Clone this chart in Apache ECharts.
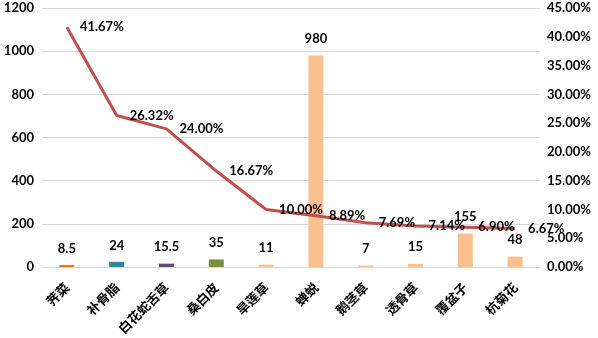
<!DOCTYPE html>
<html>
<head>
<meta charset="utf-8">
<script src="https://cdn.jsdelivr.net/npm/echarts@6/dist/echarts.min.js"></script>
<style>
  html, body { margin: 0; padding: 0; background: #fff; }
  #chart { width: 598px; height: 338px; }
</style>
</head>
<body>
<div id="chart"></div>
<script>
// Herb names along the category axis
const categories = ['荠菜', '补骨脂', '白花蛇舌草', '桑白皮', '旱莲草', '蝉蜕', '鹅茎草', '透骨草', '覆盆子', '杭菊花'];
// Counts (bars, left axis)
const counts = [8.5, 24, 15.5, 35, 11, 980, 7, 15, 155, 48];
// Rates in percent (line, right axis)
const rates = [41.67, 26.32, 24.00, 16.67, 10.00, 8.89, 7.69, 7.14, 6.90, 6.67];
// Bar fill per category
const barColors = ['#E46C0A', '#31859C', '#604A7B', '#77933C', '#FAC090', '#FAC090', '#FAC090', '#FAC090', '#FAC090', '#FAC090'];

const font = 'Lato, "Noto Sans CJK SC", sans-serif';
const chart = echarts.init(document.getElementById('chart'), null, { renderer: 'canvas' });

chart.setOption({
  animation: false,
  textStyle: { fontFamily: font },
  grid: { left: 42, right: 58, top: 8, bottom: 71 },
  xAxis: {
    type: 'category',
    data: categories,
    axisLine: { lineStyle: { color: '#d9d9d9' } },
    axisTick: { show: false },
    axisLabel: {
      rotate: 45,
      interval: 0,
      margin: 18,
      color: '#000',
      fontWeight: 'bold',
      fontSize: 13,
      fontFamily: '"Noto Sans CJK SC", sans-serif'
    }
  },
  yAxis: [
    {
      type: 'value',
      min: 0, max: 1200, interval: 200,
      axisLine: { show: false },
      axisTick: { show: false },
      splitLine: { lineStyle: { color: '#d9d9d9' } },
      axisLabel: { color: '#000', fontWeight: 'bold', fontSize: 13, margin: 8, formatter: v => String(v) }
    },
    {
      type: 'value',
      min: 0, max: 45, interval: 5,
      axisLine: { show: false },
      axisTick: { show: false },
      splitLine: { show: false },
      axisLabel: {
        color: '#000', fontWeight: 'bold', fontSize: 13, margin: 7,
        formatter: v => v.toFixed(2) + '%'
      }
    }
  ],
  series: [
    {
      type: 'bar',
      yAxisIndex: 0,
      barWidth: 15,
      data: counts.map((v, i) => ({ value: v, itemStyle: { color: barColors[i] } })),
      label: {
        show: true, position: 'top', distance: 10,
        color: '#000', fontWeight: 'bold', fontSize: 13
      }
    },
    {
      type: 'line',
      yAxisIndex: 1,
      data: rates,
      showSymbol: true,
      symbol: 'circle',
      symbolSize: 2,
      itemStyle: { color: 'rgba(0,0,0,0)', borderWidth: 0 },
      lineStyle: { color: '#C0504D', width: 3 },
      label: {
        show: true, position: 'right', distance: 12, offset: [0, 2],
        color: '#000', fontWeight: 'bold', fontSize: 13,
        formatter: p => p.value.toFixed(2) + '%'
      },
      labelLayout: { hideOverlap: false },
      z: 3
    }
  ]
});
</script>
</body>
</html>
